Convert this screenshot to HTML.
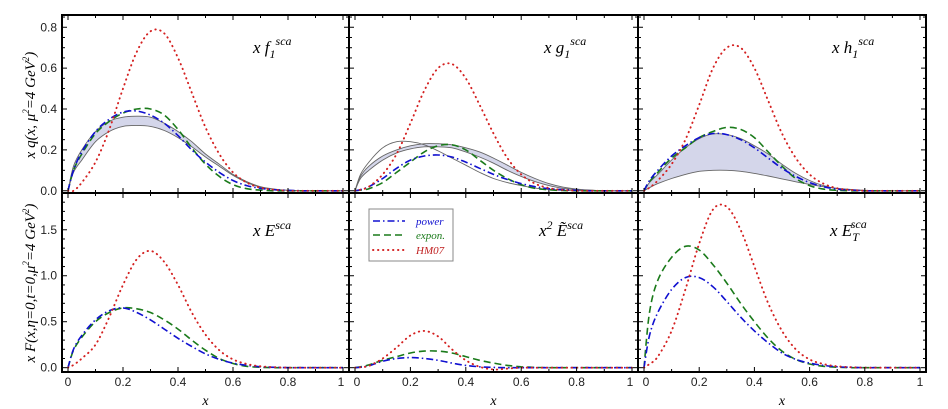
<!DOCTYPE html>
<html><head><meta charset="utf-8"><style>
body{margin:0;background:#fff;}
svg{display:block;font-family:"Liberation Serif",serif;}
.tk{font-family:"Liberation Sans",sans-serif;font-size:12px;fill:#222;}
</style></head><body>
<svg id="chart" width="948" height="409" viewBox="0 0 948 409" xmlns="http://www.w3.org/2000/svg"></svg>
<script>
const xs=[0,0.02,0.05,0.1,0.15,0.2,0.25,0.3,0.35,0.4,0.45,0.5,0.55,0.6,0.65,0.7,0.75,0.8,0.85,0.9,0.95,1];
// panel 1: x f1
const f1Red=[0,0.0,0.04,0.14,0.3,0.5,0.68,0.78,0.77,0.65,0.48,0.31,0.18,0.09,0.04,0.015,0.005,0,0,0,0,0];
const f1Blue=[0,0.1,0.19,0.29,0.35,0.385,0.39,0.37,0.33,0.27,0.2,0.14,0.09,0.05,0.025,0.012,0.005,0.002,0,0,0,0];
const f1Green=[0,0.1,0.18,0.28,0.34,0.38,0.4,0.4,0.37,0.3,0.21,0.13,0.07,0.03,0.01,0.003,0,0,0,0,0,0];
const f1Up=[0,0.12,0.2,0.29,0.34,0.36,0.365,0.36,0.33,0.29,0.24,0.18,0.13,0.08,0.045,0.02,0.008,0.002,0,0,0,0];
const f1Lo=[0,0.09,0.15,0.24,0.29,0.315,0.32,0.315,0.295,0.26,0.215,0.165,0.12,0.075,0.04,0.018,0.007,0.002,0,0,0,0];
// panel 2: x g1
const g1Red=[0,0.005,0.02,0.08,0.18,0.33,0.49,0.6,0.62,0.55,0.42,0.28,0.16,0.08,0.035,0.013,0.004,0,0,0,0,0];
const g1Blue=[0,0.005,0.02,0.06,0.11,0.15,0.17,0.175,0.165,0.14,0.11,0.08,0.055,0.035,0.02,0.01,0.005,0.002,0,0,0,0];
const g1Green=[0,0.003,0.01,0.04,0.09,0.14,0.19,0.22,0.225,0.2,0.15,0.1,0.06,0.03,0.012,0.005,0.001,0,0,0,0,0];
const g1Up=[0,0.07,0.12,0.17,0.2,0.22,0.23,0.23,0.225,0.21,0.19,0.16,0.125,0.09,0.06,0.035,0.018,0.008,0.003,0,0,0];
const g1Lo=[0,0.06,0.1,0.15,0.185,0.205,0.215,0.215,0.21,0.19,0.165,0.135,0.1,0.07,0.045,0.025,0.012,0.005,0.002,0,0,0];
const g1Alt=[0,0.08,0.14,0.21,0.24,0.24,0.225,0.195,0.16,0.125,0.09,0.06,0.04,0.025,0.013,0.006,0.002,0,0,0,0,0];
// panel 3: x h1
const h1Red=[0,0.015,0.05,0.13,0.25,0.42,0.6,0.7,0.7,0.6,0.44,0.28,0.16,0.08,0.035,0.012,0.004,0,0,0,0,0];
const h1Blue=[0,0.05,0.1,0.17,0.22,0.26,0.28,0.275,0.25,0.21,0.16,0.11,0.07,0.04,0.02,0.008,0.003,0,0,0,0,0];
const h1Green=[0,0.045,0.09,0.16,0.21,0.26,0.29,0.31,0.3,0.26,0.19,0.12,0.06,0.025,0.008,0.002,0,0,0,0,0,0];
const h1Up=[0,0.04,0.08,0.15,0.21,0.255,0.278,0.275,0.255,0.22,0.18,0.13,0.085,0.05,0.025,0.01,0.004,0,0,0,0,0];
const h1Lo=[0,0.015,0.035,0.06,0.08,0.095,0.1,0.1,0.095,0.085,0.072,0.058,0.044,0.031,0.02,0.012,0.006,0.002,0,0,0,0];
// panel 4: x E
const eRed=[0,0.03,0.1,0.25,0.55,0.9,1.18,1.27,1.15,0.9,0.6,0.36,0.19,0.09,0.04,0.015,0.005,0,0,0,0,0];
const eBlue=[0,0.2,0.35,0.52,0.62,0.65,0.6,0.52,0.42,0.32,0.23,0.15,0.09,0.05,0.025,0.01,0.004,0,0,0,0,0];
const eGreen=[0,0.19,0.33,0.5,0.6,0.65,0.64,0.6,0.52,0.42,0.3,0.19,0.1,0.045,0.015,0.004,0,0,0,0,0,0];
// panel 5: x^2 E~
const etRed=[0,0.005,0.02,0.1,0.22,0.35,0.4,0.34,0.2,0.08,0.01,-0.02,-0.01,0,0,0,0,0,0,0,0,0];
const etGreen=[0,0.01,0.03,0.08,0.12,0.16,0.18,0.18,0.16,0.12,0.08,0.05,0.025,0.01,0.003,0,0,0,0,0,0,0];
const etBlue=[0,0.005,0.02,0.07,0.1,0.11,0.1,0.08,0.05,0.025,0.01,0.003,0,0,0,0,0,0,0,0,0,0];
// panel 6: x E_T
const eTRed=[0,0.04,0.12,0.4,0.85,1.35,1.72,1.75,1.5,1.1,0.7,0.4,0.2,0.09,0.04,0.015,0.005,0,0,0,0,0];
const eTGreen=[0,0.6,0.95,1.2,1.32,1.28,1.12,0.92,0.7,0.5,0.32,0.18,0.09,0.04,0.015,0.005,0,0,0,0,0,0];
const eTBlue=[0,0.35,0.6,0.85,0.98,0.98,0.88,0.72,0.55,0.4,0.27,0.16,0.09,0.05,0.025,0.01,0.004,0,0,0,0,0];
const topTicks=["0.0","0.2","0.4","0.6","0.8"];
const botTicks=["0.0","0.5","1.0","1.5"];
const xTicks=["0","0.2","0.4","0.6","0.8","1"];

const NS="http://www.w3.org/2000/svg";
const svg=document.getElementById('chart');
function mk(tag,attrs,parent){const e=document.createElementNS(NS,tag);for(const k in attrs)e.setAttribute(k,attrs[k]);(parent||svg).appendChild(e);return e;}

const colL=[62,349,638], colR=[349,638,926];
const rowT=[15,193], rowB=[193,372];
const yr=[[-0.011,0.86],[-0.047,1.9]];
function xf(c){const x0=colL[c]+6,x1=colR[c]-6;return v=>x0+v*(x1-x0);}
function yf(r){const [a,b]=yr[r];return v=>rowB[r]-(v-a)/(b-a)*(rowB[r]-rowT[r]);}
function pathD(X,Y,vals){let p=xs.map((x,i)=>[X(x),Y(vals[i])]);let d='M'+p[0][0].toFixed(1)+','+p[0][1].toFixed(1);
 for(let i=0;i<p.length-1;i++){const p0=p[Math.max(0,i-1)],p1=p[i],p2=p[i+1],p3=p[Math.min(p.length-1,i+2)];
 const c1=[p1[0]+(p2[0]-p0[0])/6,p1[1]+(p2[1]-p0[1])/6],c2=[p2[0]-(p3[0]-p1[0])/6,p2[1]-(p3[1]-p1[1])/6];
 d+=' C'+c1.map(v=>v.toFixed(1))+' '+c2.map(v=>v.toFixed(1))+' '+p2.map(v=>v.toFixed(1));}return d;}
const styles={red:{stroke:'#d42020','stroke-dasharray':'0.4 4.6','stroke-linecap':'round','stroke-width':1.9},
 blue:{stroke:'#1010d0','stroke-dasharray':'7 3 1.5 3','stroke-width':1.6},
 green:{stroke:'#1a7a1a','stroke-dasharray':'7 4','stroke-width':1.6}};
function line(c,r,vals,kind,name){const el=mk('path',Object.assign({d:pathD(xf(c),yf(r),vals),fill:'none'},styles[kind]));
 
 }
function band(c,r,up,lo,name){const X=xf(c),Y=yf(r);
 let pts=xs.map((x,i)=>X(x)+','+Y(up[i])).concat(xs.map((x,i)=>X(x)+','+Y(lo[i])).reverse());
 const f=mk('polygon',{points:pts.join(' '),fill:'#d4d6ea',stroke:'none'});
 
 
 const u=mk('path',{d:pathD(X,Y,up),fill:'none',stroke:'#666','stroke-width':0.9});
 
 
 const l=mk('path',{d:pathD(X,Y,lo),fill:'none',stroke:'#666','stroke-width':0.9});
 
 }

band(0,0,f1Up,f1Lo,'f1-band');
line(0,0,f1Green,'green','f1-expon');line(0,0,f1Blue,'blue','f1-power');line(0,0,f1Red,'red','f1-hm07');
band(1,0,g1Up,g1Lo,'g1-band');
{const a=mk('path',{d:pathD(xf(1),yf(0),g1Alt),fill:'none',stroke:'#666','stroke-width':0.9});
 
 }
line(1,0,g1Green,'green','g1-expon');line(1,0,g1Blue,'blue','g1-power');line(1,0,g1Red,'red','g1-hm07');
band(2,0,h1Up,h1Lo,'h1-band');
line(2,0,h1Green,'green','h1-expon');line(2,0,h1Blue,'blue','h1-power');line(2,0,h1Red,'red','h1-hm07');
line(0,1,eGreen,'green','e-expon');line(0,1,eBlue,'blue','e-power');line(0,1,eRed,'red','e-hm07');
line(1,1,etGreen,'green','etilde-expon');line(1,1,etBlue,'blue','etilde-power');line(1,1,etRed,'red','etilde-hm07');
line(2,1,eTGreen,'green','et-expon');line(2,1,eTBlue,'blue','et-power');line(2,1,eTRed,'red','et-hm07');

for(let r=0;r<2;r++)for(let c=0;c<3;c++){
 const X=xf(c),Y=yf(r);
 const fr=mk('rect',{x:colL[c],y:rowT[r],width:colR[c]-colL[c],height:rowB[r]-rowT[r],fill:'none',stroke:'#000','stroke-width':2});
 
 
 for(let i=0;i<=10;i++){const px=X(i/10),L=i%2?3:5;
  mk('line',{x1:px,x2:px,y1:rowB[r],y2:rowB[r]-L,stroke:'#000','stroke-width':1});
  mk('line',{x1:px,x2:px,y1:rowT[r],y2:rowT[r]+L,stroke:'#000','stroke-width':1});}
 const step=r?0.1:0.05,maxv=r?1.9:0.85;
 for(let k=0,v=0;v<=maxv+1e-9;k++,v=k*step){const py=Y(v),L=k%(r?5:4)==0?5:3;
  mk('line',{x1:colL[c],x2:colL[c]+L,y1:py,y2:py,stroke:'#000','stroke-width':1});
  mk('line',{x1:colR[c],x2:colR[c]-L,y1:py,y2:py,stroke:'#000','stroke-width':1});}
 if(r===1){xTicks.forEach((t,i)=>{const tx=mk('text',{x:X(i*0.2)+(i===0&&c>0?2:0)+(i===5&&c<2?-2:0),y:386,'text-anchor':'middle',class:'tk'});tx.textContent=t;
  
  });
  const xl=mk('text',{x:(colL[c]+colR[c])/2,y:405,'text-anchor':'middle','font-style':'italic','font-size':14});xl.textContent='x';
  
  }
}
topTicks.forEach((t,i)=>{const tx=mk('text',{x:57,y:yf(0)(i*0.2)+4,'text-anchor':'end',class:'tk'});tx.textContent=t;
 
 });
botTicks.forEach((t,i)=>{const tx=mk('text',{x:57,y:yf(1)(i*0.5)+4,'text-anchor':'end',class:'tk'});tx.textContent=t;
 
 });
</script>
<div style="position:absolute;left:0;top:0;width:948px;height:409px;pointer-events:none;">
<svg width="948" height="409" style="font-family:'Liberation Serif',serif;font-style:italic;">
 <text transform="translate(35,105) rotate(-90)" text-anchor="middle" font-size="15">x q(x, μ<tspan font-size="9" dy="-6">2</tspan><tspan dy="6">=4 GeV</tspan><tspan font-size="9" dy="-6">2</tspan><tspan dy="6">)</tspan></text>
 <text transform="translate(35,283) rotate(-90)" text-anchor="middle" font-size="15">x F(x,η=0,t=0,μ<tspan font-size="9" dy="-6">2</tspan><tspan dy="6">=4 GeV</tspan><tspan font-size="9" dy="-6">2</tspan><tspan dy="6">)</tspan></text>
 <text x="253" y="53" font-size="17">x  f<tspan font-size="12" dy="5">1</tspan><tspan font-size="12" dy="-13">sca</tspan></text>
 <text x="544" y="53" font-size="17">x  g<tspan font-size="12" dy="5">1</tspan><tspan font-size="12" dy="-13">sca</tspan></text>
 <text x="832" y="53" font-size="17">x  h<tspan font-size="12" dy="5">1</tspan><tspan font-size="12" dy="-13">sca</tspan></text>
 <text x="253" y="236" font-size="17">x  E<tspan font-size="12" dy="-7">sca</tspan></text>
 <text x="539" y="236" font-size="17">x<tspan font-size="12" dy="-7">2</tspan><tspan dy="7"> Ẽ</tspan><tspan font-size="12" dy="-7">sca</tspan></text>
 <text x="830" y="236" font-size="17">x  E<tspan font-size="12" dy="5">T</tspan><tspan font-size="12" dy="-13" dx="-7">sca</tspan></text>
 <g>
  <rect x="369" y="209" width="84" height="52" fill="#fff" stroke="#888" stroke-width="1"/>
  <line x1="373" x2="405" y1="221" y2="221" stroke="#1010d0" stroke-width="1.6" stroke-dasharray="7 3 1.5 3"/>
  <text x="416" y="225" font-size="11" fill="#1010d0">power</text>
  <line x1="373" x2="405" y1="235" y2="235" stroke="#1a7a1a" stroke-width="1.6" stroke-dasharray="7 4"/>
  <text x="416" y="239" font-size="11" fill="#1a7a1a">expon.</text>
  <line x1="373" x2="405" y1="250" y2="250" stroke="#d42020" stroke-width="1.9" stroke-dasharray="0.4 4.6" stroke-linecap="round"/>
  <text x="416" y="254" font-size="11" fill="#c02020">HM07</text>
 </g>
</svg></div>
</body></html>
